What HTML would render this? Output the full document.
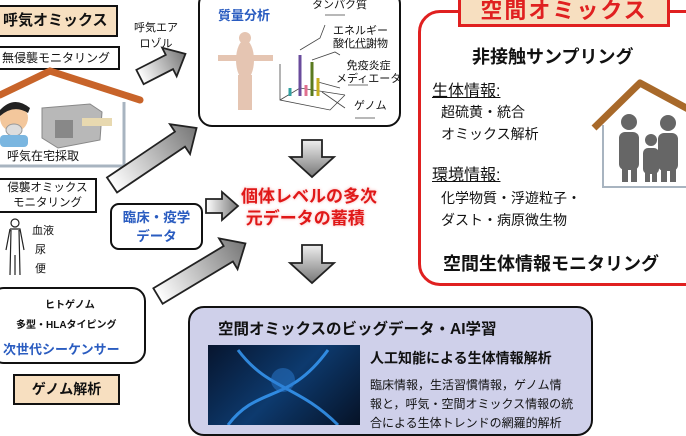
<!DOCTYPE html>
<html><head><meta charset="utf-8">
<style>
body{margin:0;width:686px;height:422px;overflow:hidden;background:#fff;position:relative;font-family:"Liberation Sans","Noto Sans CJK JP",sans-serif;color:#111}
.a{position:absolute;white-space:nowrap}
.b{font-weight:bold}
.box{position:absolute;box-sizing:border-box;border:2px solid #111;background:#fff}
.beige{background:#f7dfc0}
.blue{color:#2a5cc0}
#top{z-index:5}
.t{z-index:6}
</style></head><body>
<div class="box beige b" style="left:-2px;top:5px;width:120px;height:32px;font-size:15px;line-height:28px;padding-left:3px">呼気オミックス</div>
<div class="box" style="left:-2px;top:46px;width:122px;height:24px;font-size:12px;line-height:20px;padding-left:2px">無侵襲モニタリング</div>
<div class="a" style="left:7px;top:147px;font-size:12px">呼気在宅採取</div>
<div class="box" style="left:-2px;top:178px;width:99px;height:35px;font-size:11.5px;line-height:15px;text-align:center;padding-top:1px">侵襲オミックス<br>モニタリング</div>
<div class="a" style="left:32px;top:222px;font-size:11px;line-height:19px">血液<br>&nbsp;尿<br>&nbsp;便</div>
<div class="box" style="left:-10px;top:287px;width:156px;height:77px;border-radius:14px"></div>
<div class="a b" style="left:45px;top:296px;font-size:10px">ヒトゲノム</div>
<div class="a b" style="left:16px;top:316px;font-size:10px">多型・HLAタイピング</div>
<div class="a b blue" style="left:3px;top:339px;font-size:13px">次世代シーケンサー</div>
<div class="box beige b" style="left:13px;top:374px;width:107px;height:31px;font-size:14px;line-height:27px;text-align:center">ゲノム解析</div>
<div class="a" style="left:134px;top:20px;font-size:11px;line-height:16px;text-align:center">呼気エア<br>ロゾル</div>
<div class="box b blue" style="left:110px;top:203px;width:93px;height:47px;border-radius:9px;font-size:13.5px;line-height:19px;text-align:center;padding-top:3px">臨床・疫学<br>データ</div>
<div class="box" style="left:198px;top:-10px;width:203px;height:137px;border-radius:14px"></div>
<div class="a b blue" style="left:218px;top:5px;font-size:13px">質量分析</div>
<div class="a" style="left:312px;top:-4px;font-size:11px">タンパク質</div>
<div class="a" style="left:333px;top:25px;font-size:11px;line-height:13px;text-align:center">エネルギー<br>酸化代謝物</div>
<div class="a" style="left:336px;top:60px;font-size:11px;line-height:13px;text-align:center">免疫炎症<br>メディエータ</div>
<div class="a" style="left:354px;top:97px;font-size:11px">ゲノム</div>
<div class="a b" style="left:241px;top:186px;font-size:17px;line-height:22px;color:#e01818;text-shadow:0 0 3px #f9b0b0">個体レベルの多次<br>&nbsp;元データの蓄積</div>
<div class="box" style="left:418px;top:10px;width:290px;height:276px;border:3px solid #e02020;border-radius:22px"></div>
<div class="box b beige" style="left:458px;top:-6px;width:212px;height:33px;border:3px solid #e02020;font-size:22px;line-height:27px;text-align:center;color:#e02020;letter-spacing:2px">空間オミックス</div>
<div class="a b" style="left:472px;top:43px;font-size:18px">非接触サンプリング</div>
<div class="a" style="left:432px;top:77px;font-size:16px;text-decoration:underline">生体情報:</div>
<div class="a" style="left:441px;top:101px;font-size:14px;line-height:22px">超硫黄・統合<br>オミックス解析</div>
<div class="a" style="left:432px;top:161px;font-size:16px;text-decoration:underline">環境情報:</div>
<div class="a" style="left:441px;top:187px;font-size:14px;line-height:22px">化学物質・浮遊粒子・<br>ダスト・病原微生物</div>
<div class="a b" style="left:443px;top:250px;font-size:18px">空間生体情報モニタリング</div>
<div class="box" style="left:188px;top:306px;width:405px;height:130px;border-radius:16px;background:#cfd0ea"></div>
<div class="a b" style="left:218px;top:317px;font-size:15.5px">空間オミックスのビッグデータ・AI学習</div>
<div class="a" style="left:208px;top:345px;width:152px;height:80px;background:linear-gradient(135deg,#07152e,#0d3a6e,#061226)"></div>
<svg class="a" style="left:208px;top:345px" width="152" height="80"><path d="M20,80 C50,40 80,60 120,5 M30,5 C60,45 90,40 130,80" stroke="#3aa0ff" stroke-width="3" fill="none" opacity="0.8"/><circle cx="75" cy="35" r="12" fill="#2a7ad0" opacity="0.5"/></svg>
<div class="a b" style="left:370px;top:348px;font-size:14px">人工知能による生体情報解析</div>
<div class="a" style="left:370px;top:376px;font-size:12px;line-height:19px">臨床情報，生活習慣情報，ゲノム情<br>報と，呼気・空間オミックス情報の統<br>合による生体トレンドの網羅的解析</div>

<svg id="top" class="a" style="left:0;top:0" width="686" height="422">
<defs>
<linearGradient id="g" x1="0" y1="0" x2="1" y2="0"><stop offset="0" stop-color="#fff"/><stop offset="1" stop-color="#777"/></linearGradient>
<linearGradient id="gd" x1="0" y1="0" x2="0" y2="1"><stop offset="0" stop-color="#eee"/><stop offset="1" stop-color="#777"/></linearGradient>
</defs>
<polyline points="0,95 50,71 140,100" fill="none" stroke="#c8642a" stroke-width="7" stroke-linecap="round"/>
<polyline points="124,102 124,166 0,166" fill="none" stroke="#a8b4c0" stroke-width="3"/>
<circle cx="14" cy="118" r="14" fill="#f3c79c"/><path d="M0,110 Q14,95 30,108 L28,113 Q14,104 0,116Z" fill="#222"/>
<ellipse cx="14" cy="130" rx="8" ry="6" fill="#ddd" stroke="#999"/>
<rect x="0" y="135" width="28" height="12" rx="4" fill="#7ab6e0"/>
<path d="M42,108 L90,104 L102,112 L100,140 L58,148 L42,138Z" fill="#b8b8b8" stroke="#888"/>
<rect x="55" y="120" width="18" height="18" fill="#888"/>
<rect x="82" y="118" width="30" height="8" fill="#e8d9b0"/>
<g fill="none" stroke="#222" stroke-width="1.2"><circle cx="15" cy="223" r="4"/><path d="M10,229 L20,229 L24,250 M10,229 L6,250 M11,230 L10,275 M19,230 L20,275 M15,255 L15,275"/></g>
<g fill="url(#g)" stroke="#222" stroke-width="1.8">
<polygon transform="translate(140,77) rotate(-27)" points="0,-8 33,-8 33,-16 51,0 33,16 33,8 0,8"/>
<polygon transform="translate(112,185) rotate(-34)" points="0,-9 82,-9 82,-18 102,0 82,18 82,9 0,9"/>
<polygon transform="translate(158,296) rotate(-31)" points="0,-9 82,-9 82,-18 102,0 82,18 82,9 0,9"/>
<polygon transform="translate(206,206)" points="0,-7 16,-7 16,-14 32,0 16,14 16,7 0,7"/>
</g>
<g fill="url(#gd)" stroke="#222" stroke-width="1.8">
<polygon points="302,140 322,140 322,157 334,157 312,177 290,157 302,157"/>
<polygon points="302,245 322,245 322,263 334,263 312,283 290,263 302,263"/>
</g>
<polyline points="594,128 640,83 690,110" fill="none" stroke="#a8692a" stroke-width="7" stroke-linejoin="round"/>
<polyline points="603,125 603,187 690,187" fill="none" stroke="#a8b4c0" stroke-width="2"/>
<g fill="#666">
<circle cx="629" cy="122" r="8"/><rect x="619" y="132" width="20" height="38" rx="6"/><rect x="622" y="160" width="6" height="22"/><rect x="631" y="160" width="6" height="22"/>
<circle cx="651" cy="140" r="6"/><rect x="643" y="148" width="16" height="26" rx="5"/><rect x="645" y="168" width="5" height="14"/><rect x="652" y="168" width="5" height="14"/>
<circle cx="668" cy="123" r="8"/><rect x="658" y="133" width="20" height="38" rx="6"/><rect x="661" y="160" width="6" height="22"/><rect x="670" y="160" width="6" height="22"/>
</g>
<g stroke="#444" stroke-width="0.8" fill="none">
<path d="M280,64 L280,100 L330,110 L345,95 M280,100 L300,88 L345,95"/>
<path d="M300,50 L320,38 L325,25 M312,60 L335,52 L340,55 M318,82 L340,88 M322,92 L345,108"/>
<path d="M325,15 L345,15 M350,48 L370,48 M348,85 L368,85 M355,118 L375,118"/>
</g>
<g stroke-width="3"><line x1="300" y1="96" x2="300" y2="55" stroke="#6a4c9c"/><line x1="312" y1="96" x2="312" y2="62" stroke="#5a7a20"/><line x1="318" y1="96" x2="318" y2="78" stroke="#c8b020"/><line x1="290" y1="96" x2="290" y2="88" stroke="#30a0a0"/><line x1="306" y1="96" x2="306" y2="85" stroke="#e07090"/></g>
<g fill="#d5a080" opacity="0.6"><ellipse cx="245" cy="60" rx="9" ry="20"/><rect x="218" y="55" width="55" height="6"/><rect x="238" y="75" width="14" height="35"/><circle cx="245" cy="38" r="6"/></g>
</svg>
</body></html>
